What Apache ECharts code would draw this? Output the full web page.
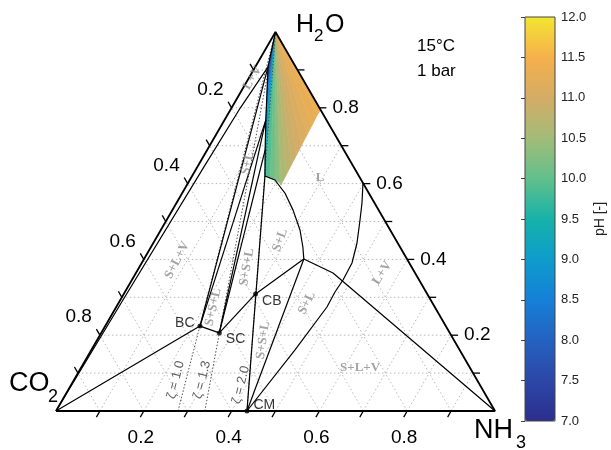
<!DOCTYPE html>
<html><head><meta charset="utf-8">
<script src="https://cdn.jsdelivr.net/npm/echarts@6/dist/echarts.min.js"></script>
<style>html,body{margin:0;padding:0;background:#fff}#c{width:611px;height:450px}</style>
</head><body><div id="c"></div>
<script>
// ternary points as [x_NH3, x_H2O]  (x_CO2 = 1 - both)
const CO2 = [0, 0], NH3 = [1, 0], H2O = [0, 1];
const BC = [0.216, 0.224], SC = [0.269, 0.206], CB = [0.300, 0.309], CM = [0.435, 0];
const T = [0.364, 0.401], K = [0.449, 0.364];
const L1 = [0.029, 0.908], L2 = [0.094, 0.768], L3 = [0.132, 0.689], P0 = [0.166, 0.620];
const lvLeft = [CO2, [0.006, 0.293], [0.015, 0.644], [0.020, 0.80], L1];
const satLine = [H2O, L1, L2, L3, P0];
const satCurve = [P0, [0.194, 0.6095], [0.234, 0.575], [0.275, 0.530], [0.317, 0.4776], [0.346, 0.4327], T];
const lvCurve = [[0.3985, 0.6016], [0.4226, 0.5488], [0.4405, 0.504], [0.464, 0.4433], [0.479, 0.3905],
  [0.481, 0.3456], [0.4785, 0.314], [0.480, 0.2744], [0.464, 0.161], CM];
const zetaBase = [0.278, 0.339, 0.435];
const zetaText = ['ζ = 1.0', 'ζ = 1.3', 'ζ = 2.0'];
const zetaAt = [[0.232, 0.082], [0.292, 0.082], [0.387, 0.069]];
// pH fan: end points of rays from the H2O corner, and the pH of each wedge
const fanEnds = [[0.029, 0.908], [0.064, 0.834], [0.094, 0.768], [0.132, 0.689], [0.166, 0.620],
  [0.181, 0.6135], [0.194, 0.6095], [0.2095, 0.6016], [0.2145, 0.596], [0.2131, 0.6227],
  [0.2117, 0.6491], [0.2104, 0.6755], [0.2090, 0.7018], [0.2077, 0.7282], [0.2063, 0.7546],
  [0.2049, 0.7810], [0.206, 0.794]];
const fanPH = [7.9, 8.4, 8.9, 9.4, 9.9, 10.1, 10.3, 10.45, 10.6, 10.75, 10.9, 11.0, 11.1, 11.2, 11.3, 11.35];
const gridVals = [0.1, 0.2, 0.3, 0.4, 0.5, 0.6, 0.7, 0.8, 0.9];
const tickLabels = [0.2, 0.4, 0.6, 0.8];
const pointNames = ['BC', 'SC', 'CB', 'CM'];
const points = [BC, SC, CB, CM];
const regionText = ['L+V', 'S+L', 'S+L+V', 'S+S+L', 'S+S+L', 'S+L', 'S+S+L', 'S+L', 'L', 'L+V', 'S+L+V'];
const regionAt = [[0.008, 0.879], [0.110, 0.654], [0.077, 0.398], [0.221, 0.274], [0.245, 0.380],
  [0.285, 0.451], [0.378, 0.187], [0.429, 0.285], [0.294, 0.615], [0.561, 0.364], [0.636, 0.1135]];
const regionRot = [60, 77, 63, 77, 80, 70, 82, 63, 0, 58, 0];
const phMin = 7, phMax = 12, phStep = 0.5;
const parula = ['#2c2e8c', '#2c47a8', '#2462c0', '#1580d8', '#0e9ccc', '#16b2a8', '#62c08c', '#a2bc78', '#d4ac66', '#f6b04c', '#f2e631'];

const P = p => [p[0] + p[1] / 2, p[1]];
const SANS = '"Liberation Sans", Arial, sans-serif';
const SERIF = '"Liberation Serif", "Times New Roman", serif';

function line(pts, style) {
  return { type: 'line', data: pts.map(P), symbol: 'none', silent: true, clip: false, z: 4,
    lineStyle: Object.assign({ color: '#000', width: 1.2 }, style) };
}

const series = [];
// dotted grid
series.push({ type: 'custom', silent: true, clip: false, z: 1, data: gridVals.map(v => [v, 0]), encode: { x: 0, y: 1 },
  renderItem(params, api) {
    const v = api.value(0);
    const segs = [[[0, v], [1 - v, v]], [[v, 0], [v, 1 - v]], [[1 - v, 0], [0, 1 - v]]];
    return { type: 'group', children: segs.map(s => {
      const a = api.coord(P(s[0])), b = api.coord(P(s[1]));
      return { type: 'line', shape: { x1: a[0], y1: a[1], x2: b[0], y2: b[1] },
        style: { stroke: '#b8b8b8', lineWidth: 1, lineDash: [1.5, 2.5] } };
    }) };
  } });
// pH fan
const fanData = fanPH.map((ph, i) => [fanEnds[i][0], fanEnds[i][1], fanEnds[i + 1][0], fanEnds[i + 1][1], ph]);
const FAN = series.length;
series.push({ type: 'custom', silent: true, clip: false, z: 2, data: fanData,
  dimensions: ['n1', 'w1', 'n2', 'w2', 'ph'], encode: { x: 'n1', y: 'w1' },
  renderItem(params, api) {
    const a = api.coord(P(H2O));
    const p1 = api.coord(P([api.value(0), api.value(1)]));
    const p2 = api.coord(P([api.value(2), api.value(3)]));
    const c = api.visual('color');
    return { type: 'polygon', shape: { points: [a, p1, p2] }, style: { fill: c, stroke: c, lineWidth: 0.6 } };
  } });
// zeta dotted lines
zetaBase.forEach(n => series.push(line([[n, 0], H2O], { color: '#4a4f5a', width: 1, type: [1.5, 1.8] })));
// phase boundaries
series.push(line(lvLeft));
series.push(line(satLine));
series.push(line([CO2, BC, SC, CB, T]));
series.push(line([BC, L1]));
series.push(line([BC, L2]));
series.push(line([SC, L2]));
series.push(line([SC, L3]));
series.push(line([CM, P0]));
series.push(line([CM, T]));
series.push(line(satCurve));
series.push(line([T, K, NH3]));
series.push(line(lvCurve));
series.push(line([CO2, NH3, H2O, CO2], { width: 1.8 }));
// ticks and tick labels
['b', 'l', 'r'].forEach(side => series.push({ type: 'custom', silent: true, clip: false, z: 5,
  data: gridVals.map(v => [v, 0]), encode: { x: 0, y: 1 },
  renderItem(params, api) {
    const v = api.value(0);
    let pt, d, lab;
    if (side === 'b') { pt = api.coord(P([v, 0])); d = [-3.5, 6.06]; lab = [pt[0] - 3, pt[1] + 27, 'center']; }
    else if (side === 'l') { pt = api.coord(P([0, 1 - v])); d = [-3.5, -6.06]; lab = [pt[0] - 8, pt[1] - 18, 'right']; }
    else { pt = api.coord(P([1 - v, v])); d = [7, 0]; lab = [pt[0] + 13, pt[1], 'left']; }
    const ch = [{ type: 'line', shape: { x1: pt[0], y1: pt[1], x2: pt[0] + d[0], y2: pt[1] + d[1] },
      style: { stroke: '#000', lineWidth: 1.3 } }];
    if (tickLabels.some(t => Math.abs(t - v) < 1e-6)) ch.push({ type: 'text',
      style: { text: v.toFixed(1), x: lab[0], y: lab[1], align: lab[2], verticalAlign: 'middle',
        fontSize: 19, fontFamily: SANS, fill: '#000' } });
    return { type: 'group', children: ch };
  } }));
// solid points with names
const ptLabelCfg = [{ position: 'left', distance: 3, offset: [0, -3] }, { position: 'right', distance: 4, offset: [0, 6] },
  { position: 'right', distance: 4, offset: [0, 7] }, { position: 'right', distance: 4, offset: [0, -6] }];
series.push({ type: 'scatter', silent: true, z: 6, symbolSize: 5, itemStyle: { color: '#000' },
  data: points.map((p, i) => ({ value: P(p), label: Object.assign({ show: true, formatter: pointNames[i],
    fontSize: 14, fontFamily: SANS, color: '#000' }, ptLabelCfg[i]) })) });
// region labels
series.push({ type: 'scatter', silent: true, z: 6, symbolSize: 0,
  data: regionAt.map((p, i) => ({ value: P(p), label: { show: true, position: 'inside', formatter: regionText[i],
    rotate: regionRot[i], fontSize: 13, fontFamily: SERIF, fontWeight: 'bold', color: '#8c8c8c' } })) });
// zeta labels
series.push({ type: 'scatter', silent: true, z: 6, symbolSize: 0,
  data: zetaAt.map((p, i) => ({ value: P(p), label: { show: true, position: 'inside', formatter: zetaText[i],
    rotate: 76, fontSize: 13, fontFamily: SANS, color: '#333' } })) });

const option = {
  animation: false,
  grid: [{ left: 56, top: 32, width: 439, height: 379 }, { left: 525, top: 17, width: 30, height: 404 }],
  xAxis: [{ type: 'value', min: 0, max: 1, show: false }, { type: 'value', gridIndex: 1, min: 0, max: 1, show: false }],
  yAxis: [{ type: 'value', min: 0, max: 1, show: false },
    { type: 'value', gridIndex: 1, position: 'right', min: phMin, max: phMax, interval: phStep,
      axisLine: { show: false }, splitLine: { show: false },
      axisTick: { show: true, inside: true, length: 4, lineStyle: { color: '#444' } },
      axisLabel: { formatter: v => v.toFixed(1), fontSize: 13, fontFamily: SANS, color: '#222', margin: 6 },
      name: 'pH [-]', nameLocation: 'middle', nameRotate: 90, nameGap: 38,
      nameTextStyle: { fontSize: 14, fontFamily: SANS, color: '#222' } }],
  visualMap: { type: 'continuous', min: phMin, max: phMax, dimension: 4, seriesIndex: FAN, show: true,
    left: 525, top: 17, itemWidth: 30, itemHeight: 404, padding: 0, calculable: false, hoverLink: false,
    text: null, inRange: { color: parula } },
  graphic: [
    { type: 'rect', z: 100, shape: { x: 525, y: 17, width: 30, height: 404 }, style: { fill: 'none', stroke: '#444', lineWidth: 1 } },
    { type: 'text', x: 296, y: 13, style: { text: 'H', fontSize: 25, fontFamily: SANS, fill: '#000' } },
    { type: 'text', x: 314, y: 28, style: { text: '2', fontSize: 17, fontFamily: SANS, fill: '#000' } },
    { type: 'text', x: 325, y: 13, style: { text: 'O', fontSize: 25, fontFamily: SANS, fill: '#000' } },
    { type: 'text', x: 9, y: 370, style: { text: 'CO', fontSize: 27, fontFamily: SANS, fill: '#000' } },
    { type: 'text', x: 48, y: 388, style: { text: '2', fontSize: 18, fontFamily: SANS, fill: '#000' } },
    { type: 'text', x: 474, y: 417, style: { text: 'NH', fontSize: 27, fontFamily: SANS, fill: '#000' } },
    { type: 'text', x: 516, y: 434, style: { text: '3', fontSize: 18, fontFamily: SANS, fill: '#000' } },
    { type: 'text', x: 417, y: 38, style: { text: '15°C', fontSize: 17, fontFamily: SANS, fill: '#000' } },
    { type: 'text', x: 417, y: 63, style: { text: '1 bar', fontSize: 17, fontFamily: SANS, fill: '#000' } }
  ],
  series
};
echarts.init(document.getElementById('c')).setOption(option);
</script></body></html>
